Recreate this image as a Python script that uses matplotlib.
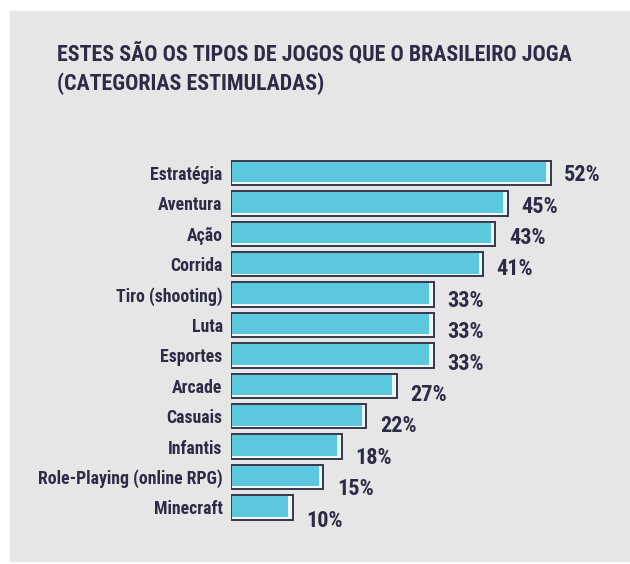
import matplotlib.pyplot as plt
from matplotlib import font_manager
from matplotlib.patches import Rectangle

categorias = ['Estratégia', 'Aventura', 'Ação', 'Corrida', 'Tiro (shooting)', 'Luta',
              'Esportes', 'Arcade', 'Casuais', 'Infantis', 'Role-Playing (online RPG)',
              'Minecraft']
percentuais = [52, 45, 43, 41, 33, 33, 33, 27, 22, 18, 15, 10]

titulo = 'ESTES SÃO OS TIPOS DE JOGOS QUE O BRASILEIRO JOGA\n(CATEGORIAS ESTIMULADAS)'

AZUL = '#5cc8dd'
TINTA = '#2d2c47'
CONTORNO = '#35384a'
FUNDO = '#e6e6e6'

# fonte estreita se houver, senão Roboto
instaladas = {f.name for f in font_manager.fontManager.ttflist}
fonte = 'Roboto'
for nome in ['Liberation Sans Narrow', 'DejaVu Sans Condensed', 'Roboto Condensed',
             'Open Sans Condensed', 'Noto Sans Condensed']:
    if nome in instaladas:
        fonte = nome
        break
plt.rcParams['font.family'] = [fonte, 'DejaVu Sans']
estreita = fonte != 'Roboto'

W, H = 630, 564
fig = plt.figure(figsize=(W / 100, H / 100), dpi=100)
fig.patch.set_facecolor('white')

# painel cinza atrás de tudo
fig.patches.append(Rectangle((10 / W, 1 - 562 / H), 620 / W, 551 / H,
                             transform=fig.transFigure, facecolor=FUNDO,
                             edgecolor='none', zorder=-5))

fig.text(57 / W, 1 - 43 / H, titulo, ha='left', va='top',
         fontsize=15.8 if estreita else 13.5,
         fontweight='bold', color=TINTA, linespacing=1.4)

# eixo: x=0 em 231px, 6.15 px por ponto percentual
x0, px_pct = 231, 6.15
top, passo = 173 - 15.2, 30.4
n = len(categorias)
ax = fig.add_axes([x0 / W, 1 - (top + passo * n) / H, (W - x0) / W, passo * n / H])
ax.set_xlim(0, (W - x0) / px_pct)
ax.set_ylim(n - 0.5, -0.5)
ax.patch.set_alpha(0)
for s in ax.spines.values():
    s.set_visible(False)
ax.set_xticks([])

pos = list(range(n))
# contorno escuro com um leve brilho por dentro, barra azul por cima
ax.barh(pos, percentuais, height=0.8, color='#eef6f8', edgecolor=CONTORNO,
        linewidth=1.4, zorder=2)
ax.barh([p - 0.03 for p in pos], [v - 0.9 for v in percentuais], height=0.68,
        left=0.15, color=AZUL, edgecolor='none', zorder=3)

ax.set_yticks(pos)
ax.set_yticklabels(categorias, fontsize=12.8 if estreita else 11,
                   fontweight='semibold', color=TINTA)
ax.tick_params(axis='y', length=0, pad=6)

for i, v in enumerate(percentuais):
    ax.text(v + 2.2, i + 0.07 + 0.033 * i, f'{v}%', ha='left', va='center',
            fontsize=16 if estreita else 14, fontweight='bold', color=TINTA, zorder=4)

fig.savefig('out.png', dpi=100)
